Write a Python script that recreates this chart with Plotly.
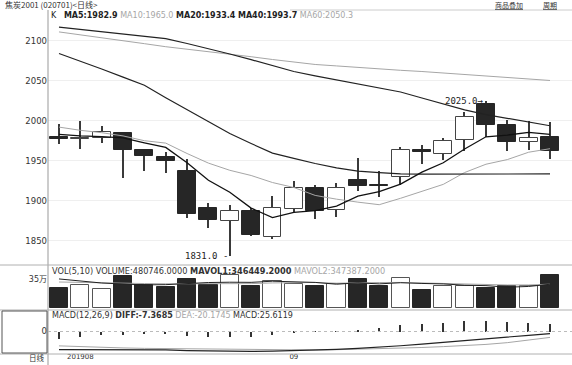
import plotly.graph_objects as go

# ---------------- data ----------------
dates = ["2019-08-16", "2019-08-19", "2019-08-20", "2019-08-21", "2019-08-22", "2019-08-23",
         "2019-08-26", "2019-08-27", "2019-08-28", "2019-08-29", "2019-08-30", "2019-09-02",
         "2019-09-03", "2019-09-04", "2019-09-05", "2019-09-06", "2019-09-09", "2019-09-10",
         "2019-09-11", "2019-09-12", "2019-09-16", "2019-09-17", "2019-09-18", "2019-09-19"]
opens = [1980, 1977.5, 1979, 1985, 1963.5, 1955, 1936.5, 1890.5, 1875, 1887, 1855, 1889,
         1915.5, 1888, 1925.5, 1920, 1930, 1963, 1959, 1976, 2021, 1994.5, 1973, 1980]
highs = [1996.5, 2000, 1994, 1985.5, 1964, 1960.5, 1952, 1896.5, 1894.5, 1890.5, 1906, 1924.5,
         1919.5, 1921.5, 1953, 1937, 1967.5, 1969.5, 1979, 2010.5, 2025, 2001.5, 2000, 1999]
lows = [1971.5, 1964.5, 1972.5, 1928, 1937.5, 1935, 1878, 1866, 1831, 1855.5, 1851.5, 1885.5,
        1876.5, 1879, 1912.5, 1905, 1919.5, 1946.5, 1951, 1962, 1980, 1962, 1964, 1952]
closes = [1977, 1979, 1985.5, 1963.5, 1956, 1950, 1883, 1876, 1887.5, 1857, 1890.5, 1916,
          1887, 1916, 1918.5, 1918, 1963.5, 1960.5, 1974.5, 2005, 1994.5, 1974, 1979, 1962.5]

ma5 = [1983, 1981, 1980, 1978.5, 1972.3, 1966.6, 1947.5, 1925.6, 1910.5, 1890.7, 1878.8, 1885.4,
       1887.6, 1893.3, 1905.6, 1911.2, 1920.7, 1935.7, 1947.4, 1964.7, 1979.9, 1982, 1985.4, 1982.9]
ma10 = [1992, 1988, 1985, 1981, 1975, 1972, 1959, 1947, 1938, 1931.5, 1922.7, 1916.5,
        1906.6, 1901.9, 1898.2, 1895, 1903, 1911.7, 1920.4, 1935.2, 1945.6, 1951.4, 1960.6, 1965.0]
ma20 = [2084, 2074.5, 2064.7, 2054.5, 2044.3, 2028.8, 2013.7, 1998.6, 1984, 1971.5, 1959.5, 1953,
        1946.5, 1941, 1937, 1935, 1933.4, 1933.2, 1933.2, 1933.3, 1934.1, 1933.9, 1933.6, 1933.4]
ma40 = [2117, 2114.3, 2111.4, 2108.5, 2105.5, 2102.6, 2096.5, 2090.2, 2083.4, 2076.3, 2069, 2061.5,
        2056, 2051, 2045.8, 2040.8, 2035.9, 2028.4, 2021, 2013.6, 2007.6, 2003, 1998.4, 1993.7]
ma60 = [2111, 2107.5, 2104, 2100, 2096.3, 2092.5, 2089.5, 2086.5, 2083.4, 2080, 2076.5, 2073,
        2070.3, 2068.5, 2066.5, 2064.7, 2063, 2061.5, 2059.5, 2057.5, 2055.5, 2053.5, 2052, 2050.3]

volume = [291600, 331000, 272000, 464000, 331000, 306000, 420000, 340000, 487000, 321000, 390000, 350000,
          321000, 355000, 420000, 317000, 434000, 267000, 321000, 323000, 287000, 317000, 324000, 480746]
mavol1 = [425000, 395000, 365000, 350000, 337900, 340800, 358600, 372200, 376800, 374800, 391600, 377600,
          373800, 347400, 367200, 352600, 369400, 358600, 351800, 332400, 326400, 303000, 314400, 346449.2]
mavol2 = [380000, 372000, 365000, 360000, 357000, 354000, 354000, 355000, 356000, 356400, 366200, 368100,
          373000, 362100, 371000, 372100, 373500, 366200, 349600, 349800, 339500, 336200, 336500, 347387.2]

diff = [-62, -62, -61.5, -62, -62, -62.5, -65, -66.5, -67.5, -68, -67, -65.5,
        -63.5, -61, -57.5, -54, -48.5, -43, -37.5, -31, -25, -19, -13, -7.3685]
dea = [-49, -52, -54.5, -56, -57.5, -58.5, -59, -59.5, -60, -61, -62, -63,
       -63, -62, -60.5, -59, -56.5, -54.5, -51.5, -48, -44, -38, -30, -20.1745]
macd = [-26, -19, -11, -11, -8, -8, -15, -19, -19, -19, -11, -4,
        -1, 1, 6.8, 12.5, 22.7, 26, 29.6, 36.4, 36.4, 34, 30.7, 25.6119]

price_ticks = [1850, 1900, 1950, 2000, 2050, 2100]
x_tick_pos = [dates[1], dates[11]]
x_tick_text = ["201908", "09"]

# ---------------- styling ----------------
DARK = "#262626"
GRAY = "#a6a6a6"
FONT = "DejaVu Sans"
W, H = 572, 365
L, R, T, B = 48, 0, 10, 11
PW, PH = W - L - R, H - T - B


def px_x(px):
    return (px - L) / PW


def px_y(py):
    return (H - B - py) / PH


up = [c >= o for o, c in zip(opens, closes)]
body_fill = ["white" if u else DARK for u in up]
body_line = ["#444444" if u else DARK for u in up]

fig = go.Figure()

# wicks
fig.add_trace(go.Bar(x=dates, y=[h - l for h, l in zip(highs, lows)], base=lows, width=0.06,
                     marker=dict(color="#3a3a3a", line=dict(width=0)), xaxis="x", yaxis="y",
                     hoverinfo="skip"))
# bodies
fig.add_trace(go.Bar(x=dates, y=[abs(c - o) for o, c in zip(opens, closes)],
                     base=[min(o, c) for o, c in zip(opens, closes)], width=0.84,
                     marker=dict(color=body_fill, line=dict(color=body_line, width=1)),
                     xaxis="x", yaxis="y"))

for vals, col, wd in [(ma60, GRAY, 1), (ma10, GRAY, 1), (ma40, "#222222", 1.2),
                      (ma20, "#222222", 1.2), (ma5, "#111111", 1.3)]:
    fig.add_trace(go.Scatter(x=dates, y=vals, mode="lines", line=dict(color=col, width=wd),
                             xaxis="x", yaxis="y"))

# volume
fig.add_trace(go.Bar(x=dates, y=volume, width=0.85,
                     marker=dict(color=body_fill, line=dict(color=["#555555" if u else DARK for u in up], width=1)),
                     xaxis="x2", yaxis="y2"))
fig.add_trace(go.Scatter(x=dates, y=mavol2, mode="lines", line=dict(color=GRAY, width=1),
                         xaxis="x2", yaxis="y2"))
fig.add_trace(go.Scatter(x=dates, y=mavol1, mode="lines", line=dict(color="#222222", width=1),
                         xaxis="x2", yaxis="y2"))

# MACD
fig.add_trace(go.Bar(x=dates, y=macd, width=0.07, marker=dict(color="#333333", line=dict(width=0)),
                     xaxis="x3", yaxis="y3"))
fig.add_trace(go.Scatter(x=dates, y=dea, mode="lines", line=dict(color=GRAY, width=1),
                         xaxis="x3", yaxis="y3"))
fig.add_trace(go.Scatter(x=dates, y=diff, mode="lines", line=dict(color="#222222", width=1.2),
                         xaxis="x3", yaxis="y3"))

xr = [-0.515, 24.03]
common_x = dict(type="category", range=xr, showgrid=False, zeroline=False, showline=False,
                ticks="", fixedrange=True, automargin=False)
d_main = [px_y(265), 1]
d_vol = [px_y(310), px_y(265)]
d_macd = [0, px_y(310)]
common_y = dict(zeroline=False, showline=False, ticks="", automargin=False, fixedrange=True)

fig.update_layout(
    width=W, height=H,
    margin=dict(l=L, r=R, t=T, b=B, pad=0, autoexpand=False),
    paper_bgcolor="white", plot_bgcolor="white",
    showlegend=False, barmode="overlay", bargap=0,
    font=dict(family=FONT, size=8.5, color="#333333"),
    xaxis=dict(common_x, anchor="y", showticklabels=False),
    xaxis2=dict(common_x, anchor="y2", matches="x", showticklabels=False),
    xaxis3=dict(common_x, anchor="y3", matches="x", showticklabels=True,
                tickmode="array", tickvals=x_tick_pos, ticktext=x_tick_text,
                tickfont=dict(size=7, family=FONT, color="#333333"), ticklabelstandoff=-3),
    yaxis=dict(common_y, domain=d_main, range=[1819.6, 2138.4], tickmode="array", tickvals=price_ticks,
               showgrid=True, gridcolor="#efefef", gridwidth=1,
               tickfont=dict(size=8.5, family=FONT, color="#333333")),
    yaxis2=dict(common_y, domain=d_vol, range=[-32400, 630300], tickmode="array", tickvals=[350000],
                ticktext=["35万"], showgrid=False, ticklabelshift=-5,
                tickfont=dict(size=8, family="DejaVu Sans, Noto Sans CJK SC", color="#333333")),
    yaxis3=dict(common_y, domain=d_macd, range=[-76.7, 73.3], tickmode="array", tickvals=[0],
                ticktext=["0"], showgrid=False,
                tickfont=dict(size=8.5, family=FONT, color="#333333")),
)

line_col = "#b0b0b0"
shapes = [
    dict(type="line", xref="paper", yref="paper", x0=0, x1=0, y0=px_y(365), y1=px_y(10),
         line=dict(color="#999999", width=1)),
    dict(type="line", xref="paper", yref="paper", x0=px_x(0), x1=1, y0=px_y(265), y1=px_y(265),
         line=dict(color=line_col, width=1)),
    dict(type="line", xref="paper", yref="paper", x0=px_x(0), x1=1, y0=px_y(310), y1=px_y(310),
         line=dict(color=line_col, width=1)),
    dict(type="line", xref="paper", yref="paper", x0=px_x(0), x1=1, y0=px_y(354), y1=px_y(354),
         line=dict(color=line_col, width=1)),
    dict(type="line", xref="paper", yref="paper", x0=px_x(290), x1=1, y0=px_y(10), y1=px_y(10),
         line=dict(color="#cccccc", width=1)),
    dict(type="rect", xref="paper", yref="paper", x0=px_x(2), x1=px_x(47), y0=px_y(353), y1=px_y(311),
         line=dict(color="#555555", width=1)),
    dict(type="line", xref="paper", yref="y3", x0=0, x1=1, y0=0, y1=0,
         line=dict(color="#bbbbbb", width=1, dash="dot")),
]
fig.update_layout(shapes=shapes)

G = "<span style='color:#a6a6a6'>{}</span>"
ann = [
    dict(x=px_x(3), y=px_y(5), text="焦炭2001 (020701)&lt;日线&gt;", xanchor="left", yanchor="middle",
         font=dict(size=8, family="Noto Sans CJK SC", color="#333333")),
    dict(x=px_x(509), y=px_y(5), text="<u>商品叠加</u>", xanchor="center", yanchor="middle",
         font=dict(size=7, family="Noto Sans CJK SC", color="#333333")),
    dict(x=px_x(550), y=px_y(5), text="<u>周期</u>", xanchor="center", yanchor="middle",
         font=dict(size=7, family="Noto Sans CJK SC", color="#333333")),
    dict(x=px_x(49), y=px_y(15), xanchor="left", yanchor="middle",
         text="K   <b>MA5:1982.9</b> " + G.format("MA10:1965.0") +
              " <b>MA20:1933.4</b> <b>MA40:1993.7</b> " + G.format("MA60:2050.3"),
         font=dict(size=8, family=FONT, color="#222222")),
    dict(x=px_x(50), y=px_y(270.5), xanchor="left", yanchor="middle",
         text="VOL(5,10) VOLUME:480746.0000 <b>MAVOL1:346449.2000</b> " + G.format("MAVOL2:347387.2000"),
         font=dict(size=8.2, family=FONT, color="#333333")),
    dict(x=px_x(50), y=px_y(315.5), xanchor="left", yanchor="middle",
         text="MACD(12,26,9) <b>DIFF:-7.3685</b> " + G.format("DEA:-20.1745") + " MACD:25.6119",
         font=dict(size=8, family=FONT, color="#333333")),
    dict(x=px_x(37), y=px_y(357.5), text="日线", xanchor="center", yanchor="middle",
         font=dict(size=7.5, family="Noto Sans CJK SC", color="#333333")),
]
for a in ann:
    a.update(xref="paper", yref="paper", showarrow=False)

ann += [
    dict(x=dates[20], y=highs[20], xref="x", yref="y", text="2025.0→", xanchor="right",
         yanchor="middle", showarrow=False, font=dict(size=9, family="DejaVu Sans Mono", color="#222222")),
    dict(x=dates[8], y=lows[8], xref="x", yref="y", text="1831.0 ‐", xanchor="right",
         yanchor="middle", showarrow=False, font=dict(size=9, family="DejaVu Sans Mono", color="#222222")),
]
fig.update_layout(annotations=ann)

fig.write_html("out.html", config={"displayModeBar": False},
               post_script="document.body.style.margin='0';document.body.style.overflow='hidden';")
